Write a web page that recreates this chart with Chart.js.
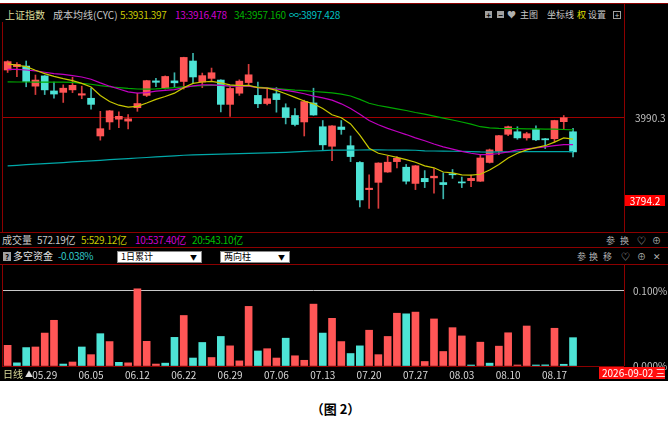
<!DOCTYPE html>
<html lang="zh-CN">
<head>
<meta charset="UTF-8">
<title>上证指数 成本均线</title>
<script src="https://cdn.jsdelivr.net/npm/chart.js"></script>
<style>
    body { margin: 0; background: #fff; font-family: "Noto Sans CJK SC", sans-serif; }
    #wrap { position: relative; width: 671px; height: 434px; overflow: hidden; background: #fff; }
    #panel { position: absolute; left: 0; top: 3px; width: 668px; height: 378px; background: #000; }
    .t { position: absolute; white-space: nowrap; font-size: 10px; line-height: 12px; }
    .n { letter-spacing: -0.35px; }
    .s { font-size: 9px; }
    .ic { position: absolute; white-space: nowrap; font-size: 9px; line-height: 10px; color: #b0b0b0; }
    .hl { position: absolute; height: 1px; background: #8c0000; }
    .vl { position: absolute; width: 1px; background: #8c0000; }
    .box { position: absolute; width: 7px; height: 7px; background: #a0a0a0; color: #000; font-size: 8px; line-height: 7px; text-align: center; font-weight: bold; }
    .dd { position: absolute; height: 10px; background: #fff; border: 1px solid #888; color: #000; font-size: 9px; line-height: 10px; padding-left: 3px; box-sizing: content-box; }
    .dd span { position: absolute; right: 4px; top: 0; font-size: 7px; }
    canvas { position: absolute; }
</style>
</head>
<body>
<div id="wrap">
    <div id="panel"></div>

    <!-- frame lines -->
    <div class="hl" style="left:0;top:3px;width:668px;"></div>
    <div class="hl" style="left:0;top:232px;width:668px;"></div>
    <div class="hl" style="left:0;top:247px;width:668px;"></div>
    <div class="hl" style="left:0;top:264px;width:668px;"></div>
    <div class="hl" style="left:2px;top:366px;width:622px;"></div>
    <div class="vl" style="left:2px;top:22px;height:210px;"></div>
    <div class="vl" style="left:2px;top:264px;height:102px;"></div>
    <div class="vl" style="left:624px;top:3px;height:229px;"></div>
    <div class="vl" style="left:624px;top:264px;height:102px;"></div>

    <canvas id="mainChart" width="671" height="210" style="left:0;top:22px;width:671px;height:210px;"></canvas>
    <canvas id="flowChart" width="671" height="116" style="left:0;top:265px;width:671px;height:116px;"></canvas>

    <!-- header row -->
    <div class="t" style="left:5px;top:9px;color:#dcdc9a;">上证指数</div>
    <div class="t" style="left:53px;top:9px;color:#c8c8c8;">成本均线(CYC)</div>
    <div class="t n" style="left:120px;top:9px;color:#c8c800;">5:3931.397</div>
    <div class="t n" style="left:175px;top:9px;color:#d000d0;">13:3916.478</div>
    <div class="t n" style="left:234px;top:9px;color:#00b000;">34:3957.160</div>
    <div class="t n" style="left:289px;top:9px;color:#00c0c0;">∞:3897.428</div>

    <div class="box" style="left:485px;top:11px;">+</div>
    <div class="box" style="left:497px;top:11px;">−</div>
    <div class="ic" style="left:507px;top:10px;">♥</div>
    <div class="t s" style="left:520px;top:9px;color:#c8c8c8;">主图</div>
    <div class="t s" style="left:547px;top:9px;color:#c8c8c8;">坐标线</div>
    <div class="t s" style="left:577px;top:9px;color:#e0e000;">权</div>
    <div class="t s" style="left:588px;top:9px;color:#c8c8c8;">设置</div>
    <div class="box" style="left:613px;top:11px;width:6px;height:6px;background:#000;border:1px solid #a0a0a0;color:#a0a0a0;font-size:7px;line-height:6px;">+</div>

    <!-- right axis marker -->
    <div class="t" style="left:625px;top:195px;width:40px;height:11px;line-height:11px;background:#ff0000;color:#fff;text-align:center;">3794.2</div>

    <!-- volume row -->
    <div class="t" style="left:2px;top:234px;color:#c8c8c8;">成交量</div>
    <div class="t n" style="left:37px;top:234px;color:#c8c8c8;">572.19亿</div>
    <div class="t n" style="left:81px;top:234px;color:#c8c800;">5:529.12亿</div>
    <div class="t n" style="left:135px;top:234px;color:#d000d0;">10:537.40亿</div>
    <div class="t n" style="left:192px;top:234px;color:#00c000;">20:543.10亿</div>
    <div class="ic" style="left:606px;top:236px;">参</div>
    <div class="ic" style="left:620px;top:236px;">换</div>
    <div class="ic" style="left:637px;top:236px;">♡</div>
    <div class="ic" style="left:652px;top:236px;">⊕</div>

    <!-- flow row -->
    <div class="box" style="left:3px;top:252px;width:8px;height:9px;line-height:9px;">?</div>
    <div class="t" style="left:13px;top:250px;color:#e0e0e0;">多空资金</div>
    <div class="t n" style="left:58px;top:250px;color:#30c8c8;">-0.038%</div>
    <div class="dd" style="left:117px;top:251px;width:80px;">1日累计<span>▼</span></div>
    <div class="dd" style="left:220px;top:251px;width:65px;">两向柱<span>▼</span></div>
    <div class="ic" style="left:577px;top:252px;">参</div>
    <div class="ic" style="left:589px;top:252px;">换</div>
    <div class="ic" style="left:603px;top:252px;">移</div>
    <div class="ic" style="left:621px;top:252px;">♡</div>
    <div class="ic" style="left:637px;top:252px;">⊕</div>
    <div class="ic" style="left:653px;top:252px;">✕</div>

    <!-- bottom axis row -->
    <div class="t" style="left:3px;top:368px;color:#dcdc9a;">日线</div>
    <div class="ic" style="left:25px;top:369px;color:#e0e0e0;font-size:8px;">▲</div>
    <div class="t" style="left:599px;top:367px;width:63px;height:12px;background:#ff1010;color:#fff;padding-left:3px;">2026-09-02 三</div>

    <div class="t" style="left:0;top:401px;width:671px;text-align:center;color:#000;font-size:13px;line-height:16px;font-weight:bold;">（图 2）</div>
</div>

<script>
    // trading days shown on the chart
    const dates = [
        '05.25','05.26','05.27','05.28','05.29','06.01','06.02','06.03','06.04','06.05',
        '06.08','06.09','06.10','06.11','06.12','06.15','06.16','06.17','06.18','06.22',
        '06.23','06.24','06.25','06.26','06.29','06.30','07.01','07.02','07.03','07.06',
        '07.07','07.08','07.09','07.10','07.13','07.14','07.15','07.16','07.17','07.20',
        '07.21','07.22','07.23','07.24','07.27','07.28','07.29','07.30','07.31','08.03',
        '08.04','08.05','08.06','08.07','08.10','08.11','08.12','08.13','08.14','08.17',
        '08.18','08.19'
    ];
    const tickDates = ['05.29','06.05','06.12','06.22','06.29','07.06','07.13','07.20','07.27','08.03','08.10','08.17'];

    const open = [
        4121.8, 4131.0, 4132.6, 4077.3, 4105.6, 4064.1, 4060.2, 4067.1, 4052.6, 4044.0,
        3940.2, 3978.8, 3986.4, 3981.1, 4018.0, 4051.9, 4091.8, 4071.7, 4091.8, 4090.2,
        4146.5, 4088.8, 4098.7, 4094.1, 4027.2, 4057.9, 4087.2, 4051.9, 4029.5, 4056.5,
        4018.0, 3996.5, 3978.8, 4031.1, 3965.6, 3911.9, 3964.9, 3913.5, 3867.3, 3792.6,
        3812.6, 3841.0, 3869.6, 3854.2, 3809.6, 3823.5, 3824.9, 3812.0, 3835.0, 3813.3,
        3817.3, 3815.7, 3867.3, 3898.0, 3944.8, 3951.8, 3934.9, 3958.0, 3932.6, 3932.6,
        3979.5, 3951.8
    ];
    const high = [
        4147.2, 4142.5, 4146.5, 4108.0, 4106.5, 4088.8, 4080.9, 4101.7, 4077.3, 4071.7,
        4008.1, 4010.5, 4006.4, 3998.8, 4057.9, 4093.5, 4098.7, 4105.6, 4114.2, 4157.0,
        4167.9, 4113.3, 4127.1, 4095.0, 4077.3, 4094.8, 4137.3, 4088.8, 4071.7, 4073.3,
        4028.8, 4015.7, 4038.7, 4071.7, 3982.7, 3969.0, 3982.7, 3940.2, 3869.6, 3833.4,
        3866.5, 3884.8, 3883.5, 3861.8, 3859.0, 3844.9, 3850.3, 3838.7, 3848.0, 3827.2,
        3832.7, 3887.2, 3904.2, 3942.0, 3967.2, 3965.6, 3950.4, 3967.9, 3933.5, 3983.5,
        3996.5, 3961.5
    ];
    const low = [
        4114.9, 4103.3, 4075.6, 4054.2, 4054.2, 4044.0, 4032.5, 4059.5, 4042.7, 4014.0,
        3928.7, 3958.0, 3963.3, 3959.6, 4008.1, 4048.6, 4075.6, 4069.4, 4073.3, 4069.4,
        4084.9, 4073.3, 4092.5, 4006.4, 3994.2, 4051.9, 4077.3, 4018.0, 4025.6, 4005.7,
        3973.4, 3967.9, 3940.2, 3997.0, 3902.6, 3871.9, 3944.8, 3869.6, 3745.1, 3741.1,
        3741.1, 3840.0, 3852.6, 3808.0, 3792.6, 3798.1, 3782.7, 3767.2, 3823.5, 3798.1,
        3800.4, 3815.0, 3865.7, 3888.8, 3941.1, 3931.0, 3928.7, 3927.3, 3905.6, 3923.4,
        3958.0, 3882.6
    ];
    const close = [
        4144.9, 4137.3, 4090.2, 4094.1, 4067.1, 4055.6, 4071.7, 4079.6, 4056.5, 4027.2,
        3960.3, 4009.4, 3994.2, 3987.3, 4029.5, 4092.5, 4087.9, 4104.0, 4086.5, 4156.4,
        4102.6, 4106.3, 4114.2, 4027.2, 4071.0, 4091.1, 4108.6, 4028.8, 4042.7, 4040.3,
        3991.0, 3971.8, 4034.8, 3997.9, 3915.8, 3967.9, 3958.0, 3883.5, 3764.2, 3796.5,
        3865.7, 3868.0, 3878.9, 3815.7, 3858.1, 3814.3, 3829.5, 3806.4, 3833.4, 3811.0,
        3823.5, 3879.6, 3901.9, 3941.1, 3965.6, 3934.9, 3946.4, 3929.6, 3929.6, 3982.7,
        3990.3, 3896.4
    ];

    // cost moving averages (5, 13, 34, infinite)
    const ma5 = [
        4138.7, 4134.9, 4131.0, 4121.0, 4111.8, 4104.1, 4098.0, 4092.6, 4084.9, 4074.9,
        4051.8, 4034.9, 4024.9, 4019.5, 4021.8, 4031.0, 4041.0, 4048.7, 4058.0, 4073.3,
        4084.9, 4088.7, 4090.3, 4086.4, 4081.0, 4078.7, 4079.5, 4073.3, 4071.8, 4065.7,
        4056.4, 4046.4, 4036.4, 4028.7, 4015.7, 3998.7, 3990.3, 3973.4, 3942.6, 3906.5,
        3892.6, 3887.2, 3881.1, 3874.9, 3868.0, 3858.0, 3852.6, 3841.1, 3838.8, 3833.4,
        3832.6, 3834.9, 3846.5, 3861.9, 3879.6, 3892.6, 3901.9, 3908.0, 3913.4, 3923.4,
        3934.9, 3931.4
    ];
    const ma13 = [
        4123.3, 4123.3, 4121.8, 4119.5, 4115.6, 4111.8, 4109.5, 4106.4, 4102.6, 4096.4,
        4086.4, 4077.2, 4069.5, 4061.8, 4058.0, 4059.5, 4063.4, 4065.7, 4068.0, 4073.3,
        4078.0, 4081.0, 4081.0, 4079.5, 4077.2, 4077.2, 4077.2, 4073.3, 4071.8, 4069.5,
        4065.7, 4061.8, 4056.4, 4050.0, 4044.9, 4038.7, 4028.7, 4015.7, 4000.3, 3982.6,
        3971.0, 3961.1, 3952.6, 3944.1, 3934.9, 3927.2, 3918.0, 3910.3, 3904.2, 3898.0,
        3892.6, 3888.8, 3888.8, 3891.9, 3896.5, 3901.9, 3904.9, 3907.2, 3910.3, 3913.4,
        3916.5, 3916.5
    ];
    const ma34 = [
        4088.9, 4088.8, 4088.7, 4088.6, 4088.6, 4088.5, 4088.4, 4087.9, 4084.9, 4082.6,
        4078.7, 4075.7, 4073.3, 4071.1, 4069.5, 4069.4, 4069.6, 4071.1, 4073.3, 4075.5,
        4077.0, 4078.5, 4079.5, 4079.5, 4079.0, 4078.4, 4077.2, 4074.9, 4072.6, 4070.3,
        4068.7, 4066.4, 4064.9, 4062.6, 4061.0, 4058.7, 4055.6, 4050.3, 4041.0, 4030.3,
        4024.1, 4019.5, 4014.9, 4010.3, 4004.9, 4000.3, 3994.9, 3989.5, 3984.1, 3978.7,
        3972.6, 3965.7, 3962.6, 3961.1, 3960.3, 3960.3, 3959.5, 3959.5, 3958.8, 3958.8,
        3958.0, 3957.2
    ];
    const maInf = [
        3858.1, 3859.5, 3861.1, 3862.5, 3864.1, 3865.7, 3867.1, 3868.7, 3870.3, 3871.7,
        3873.3, 3874.9, 3876.3, 3877.9, 3879.6, 3880.9, 3882.6, 3884.2, 3885.6, 3887.2,
        3888.3, 3889.0, 3889.7, 3890.4, 3891.1, 3891.8, 3892.5, 3893.2, 3893.9, 3894.6,
        3895.3, 3896.4, 3897.6, 3898.8, 3900.0, 3901.0, 3901.3, 3901.5, 3901.6, 3901.7,
        3901.7, 3901.6, 3901.5, 3901.3, 3900.9, 3899.2, 3898.8, 3898.5, 3898.2, 3897.6,
        3897.0, 3896.2, 3896.0, 3896.2, 3896.5, 3896.8, 3897.0, 3897.1, 3897.2, 3897.3,
        3897.4, 3897.4
    ];

    // 多空资金 (%), negative = cyan
    const flow = [
        0.0275, -0.0042, -0.0245, 0.0253, 0.0438, 0.0608, -0.0026, 0.0053, -0.0253, 0.0151,
        -0.0430, 0.0325, -0.0049, 0.0042, 0.1027, 0.0328, 0.0026, -0.0038, -0.0381, 0.0672,
        -0.0106, -0.0313, 0.0113, -0.0393, 0.0268, 0.0068, 0.0793, -0.0200, 0.0230, 0.0106,
        -0.0370, 0.0136, 0.0076, 0.0823, -0.0438, 0.0634, 0.0325, -0.0166, -0.0268, 0.0476,
        0.0151, 0.0393, 0.0702, -0.0694, 0.0717, 0.0060, 0.0626, 0.0193, 0.0510, 0.0400,
        -0.0011, 0.0317, -0.0038, 0.0264, 0.0442, 0.0011, 0.0532, -0.0011, -0.0015, 0.0502,
        -0.0023, -0.0377
    ];

    const RED = '#ff5656';
    const CYAN = '#4de4d6';
    const RED_WICK = '#d83c3c';
    const CYAN_WICK = '#3cb4ac';

    // 5 empty slots on the right edge
    const labels = dates.concat(['', '', '', '', '']);
    const isUp = close.map((c, i) => c >= open[i]);

    const axisFont = { family: 'Noto Sans CJK SC', size: 10 };

    new Chart(document.getElementById('mainChart'), {
        type: 'bar',
        data: {
            labels: labels,
            datasets: [
                { type: 'line', data: ma5, borderColor: '#c8c800', borderWidth: 1.2, pointRadius: 0, order: 0 },
                { type: 'line', data: ma13, borderColor: '#c000c0', borderWidth: 1.2, pointRadius: 0, order: 1 },
                { type: 'line', data: ma34, borderColor: '#00a800', borderWidth: 1.2, pointRadius: 0, order: 2 },
                { type: 'line', data: maInf, borderColor: '#00a8a8', borderWidth: 1.2, pointRadius: 0, order: 3 },
                {
                    data: open.map((o, i) => [o, close[i]]),
                    backgroundColor: isUp.map(u => u ? RED : CYAN),
                    barThickness: 7, minBarLength: 1, grouped: false, order: 4
                },
                {
                    data: low.map((l, i) => [l, high[i]]),
                    backgroundColor: isUp.map(u => u ? RED_WICK : CYAN_WICK),
                    barThickness: 1, grouped: false, order: 5
                }
            ]
        },
        options: {
            responsive: false,
            animation: false,
            devicePixelRatio: 1,
            layout: { padding: { left: 3, right: 3, top: 0, bottom: 0 } },
            plugins: { legend: { display: false }, tooltip: { enabled: false } },
            scales: {
                x: { display: false },
                y: {
                    position: 'right',
                    min: 3722.7,
                    max: 4207.1,
                    afterFit: s => { s.width = 44; },
                    afterBuildTicks: s => { s.ticks = [{ value: 3990.3 }]; },
                    border: { display: false },
                    grid: { color: '#a00000', borderDash: [2, 2], drawTicks: false },
                    ticks: { color: '#c0c0c0', font: axisFont, padding: 11, callback: v => v.toFixed(1) }
                }
            }
        }
    });

    new Chart(document.getElementById('flowChart'), {
        type: 'bar',
        data: {
            labels: labels,
            datasets: [{
                data: flow.map(v => Math.abs(v)),
                backgroundColor: flow.map(v => v >= 0 ? RED : CYAN),
                barThickness: 7,
                minBarLength: 1
            }]
        },
        options: {
            responsive: false,
            animation: false,
            devicePixelRatio: 1,
            layout: { padding: { left: 3, right: 3, top: 0, bottom: 0 } },
            plugins: { legend: { display: false }, tooltip: { enabled: false } },
            scales: {
                x: {
                    afterFit: s => { s.height = 15; },
                    border: { display: false },
                    grid: { display: false, drawTicks: false },
                    ticks: {
                        autoSkip: false, maxRotation: 0, padding: 3,
                        color: '#d8d8d8', font: axisFont,
                        callback: (v, i) => tickDates.includes(labels[i]) ? labels[i] : ''
                    }
                },
                y: {
                    position: 'right',
                    min: 0,
                    max: 0.1144,
                    afterFit: s => { s.width = 44; },
                    afterBuildTicks: s => { s.ticks = [{ value: 0 }, { value: 0.1 }]; },
                    border: { display: false },
                    grid: {
                        color: ctx => ctx.tick && ctx.tick.value > 0 ? '#c8c8c8' : 'rgba(0,0,0,0)',
                        borderDash: [2, 2], drawTicks: false
                    },
                    ticks: { color: '#c0c0c0', font: axisFont, padding: 9, callback: v => v.toFixed(3) + '%' }
                }
            }
        }
    });
</script>
</body>
</html>
